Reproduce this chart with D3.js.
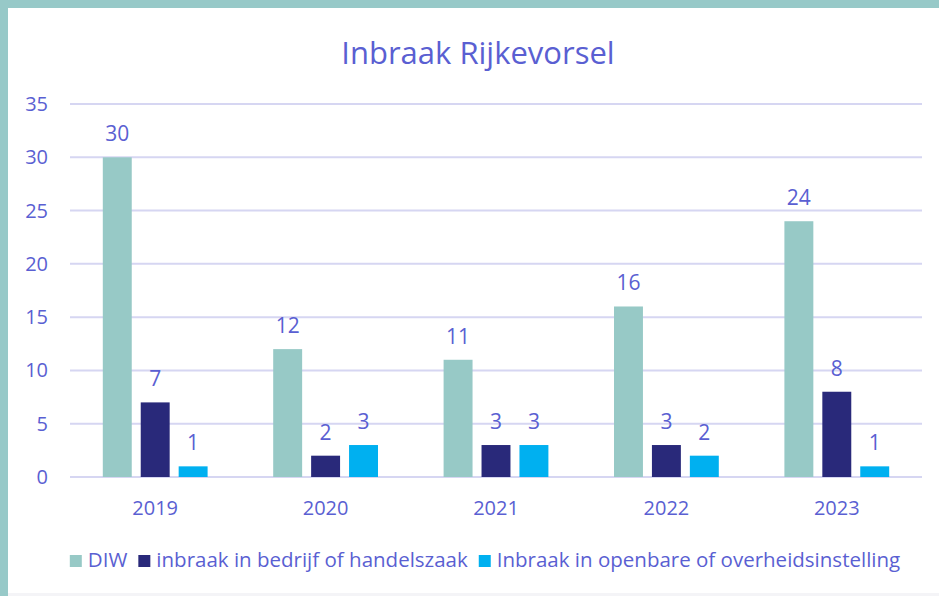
<!DOCTYPE html>
<html>
<head>
<meta charset="utf-8">
<script src="https://cdn.jsdelivr.net/npm/d3@7"></script>
<style>
  html, body { margin: 0; padding: 0; background: #fff; }
  svg { display: block; font-family: "Open Sans", sans-serif; }
</style>
</head>
<body>
<div id="chart"></div>
<script>
const years = ["2019", "2020", "2021", "2022", "2023"]
const seriesNames = ["DIW", "inbraak in bedrijf of handelszaak", "Inbraak in openbare of overheidsinstelling"]
const diw = [30, 12, 11, 16, 24]
const bedrijf = [7, 2, 3, 3, 8]
const openbaar = [1, 3, 3, 2, 1]
const yTicks = [0, 5, 10, 15, 20, 25, 30, 35]
const colors = ["#97c9c6", "#29297a", "#00b0f0"]

const W = 939, H = 596
const textColor = "#5a5fd2"
const plot = { left: 70, right: 922, top: 104, bottom: 477 }

const svg = d3.select("#chart").append("svg").attr("width", W).attr("height", H)

// frame: teal band top/left, white card
svg.append("rect").attr("width", W).attr("height", H).attr("fill", "#97c9c8")
svg.append("rect").attr("x", 8).attr("y", 8).attr("width", W - 8).attr("height", 585).attr("fill", "#fff")
svg.append("rect").attr("x", 8).attr("y", 593).attr("width", W - 8).attr("height", 3).attr("fill", "#f4f4f7")

svg.append("text").attr("x", 478).attr("y", 64).attr("text-anchor", "middle")
    .attr("fill", textColor).style("font-size", "31px").text("Inbraak Rijkevorsel")

const y = d3.scaleLinear().domain([0, 35]).range([plot.bottom, plot.top])
const x0 = d3.scaleBand().domain(years).range([plot.left, plot.right]).paddingInner(0.385).paddingOuter(0.1925)
const x1 = d3.scaleBand().domain(d3.range(3)).range([0, x0.bandwidth()]).paddingInner(0.237).paddingOuter(0)

// gridlines
svg.append("g").selectAll("line").data(yTicks).join("line")
    .attr("x1", plot.left).attr("x2", plot.right)
    .attr("y1", d => y(d)).attr("y2", d => y(d))
    .attr("stroke", "#d6d6f2").attr("stroke-width", 2)

// y axis labels
svg.append("g").selectAll("text").data(yTicks).join("text")
    .attr("x", 48).attr("y", d => y(d)).attr("dy", "0.35em").attr("text-anchor", "end")
    .attr("fill", textColor).style("font-size", "20px").text(d => d)

// x axis labels
svg.append("g").selectAll("text").data(years).join("text")
    .attr("x", d => x0(d) + x0.bandwidth() / 2).attr("y", 515).attr("text-anchor", "middle")
    .attr("fill", textColor).style("font-size", "20px").text(d => d)

const series = [diw, bedrijf, openbaar]
const bars = years.flatMap((yr, i) => series.map((s, k) => ({ yr, k, v: s[i] })))

const g = svg.append("g")
g.selectAll("rect").data(bars).join("rect")
    .attr("x", d => x0(d.yr) + x1(d.k)).attr("width", x1.bandwidth())
    .attr("y", d => y(d.v)).attr("height", d => y(0) - y(d.v))
    .attr("fill", d => colors[d.k])

g.selectAll("text").data(bars).join("text")
    .attr("x", d => x0(d.yr) + x1(d.k) + x1.bandwidth() / 2).attr("y", d => y(d.v) - 16)
    .attr("text-anchor", "middle").attr("fill", textColor).style("font-size", "21px")
    .text(d => d.v)

// legend, laid out by measured text width then centred
const legend = svg.append("g")
let cx = 0
seriesNames.forEach((name, k) => {
    legend.append("rect").attr("x", cx).attr("y", -12).attr("width", 12).attr("height", 12).attr("fill", colors[k])
    const t = legend.append("text").attr("x", cx + 18).attr("y", 0)
        .attr("fill", textColor).style("font-size", "20.5px").text(name)
    cx += 18 + t.node().getComputedTextLength() + 11
})
const lw = cx - 11
legend.attr("transform", `translate(${485 - lw / 2}, 567)`)
</script>
</body>
</html>
